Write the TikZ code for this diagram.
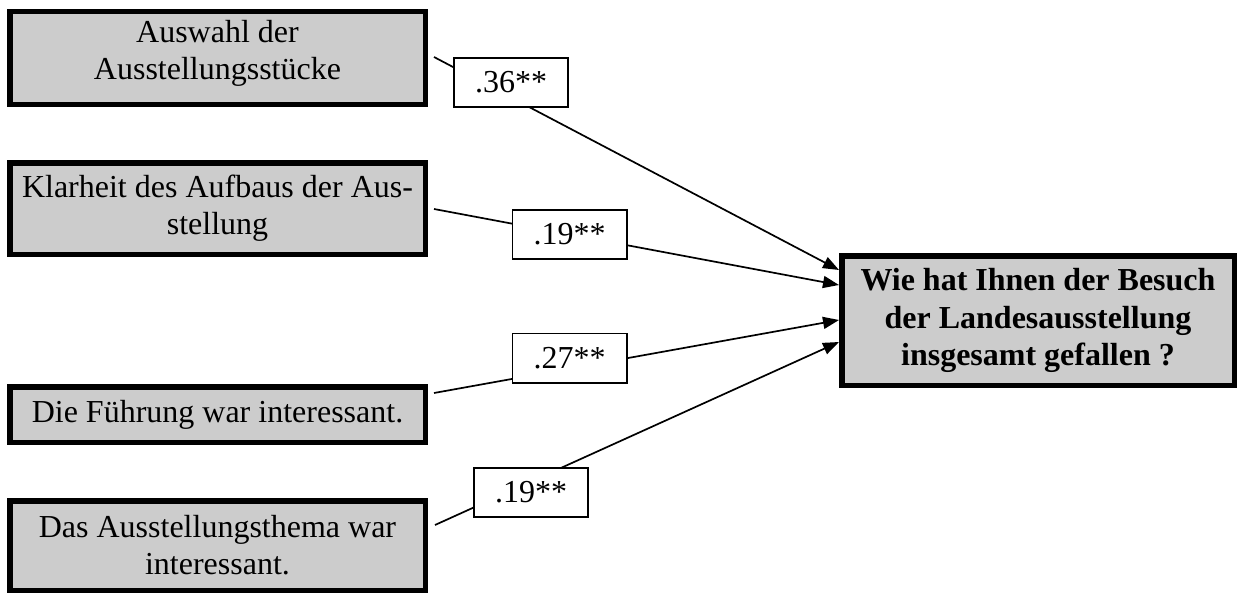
\documentclass[tikz,border=0pt]{standalone}
\usepackage{fontspec}
\setmainfont{Liberation Serif}
\usetikzlibrary{arrows.meta}
\definecolor{boxgray}{HTML}{CCCCCC}
\tikzset{
  srcbox/.style={draw=black, line width=5.5pt, fill=boxgray, inner sep=0pt,
    minimum width=415.5pt, align=center, font=\fontsize{32}{36.8}\selectfont},
  boxtext/.style={inner sep=0pt, align=center, font=\fontsize{32}{36.8}\selectfont},
  tgtbox/.style={draw=black, line width=5.5pt, fill=boxgray, inner sep=0pt,
    minimum width=392.5pt, minimum height=129.5pt, align=center,
    font=\fontsize{32}{37.5}\selectfont\bfseries},
  coef/.style={draw=black, line width=1.6pt, fill=white, inner sep=0pt,
    minimum width=114.4pt, minimum height=49.4pt, font=\fontsize{32}{36.8}\selectfont},
  conn/.style={line width=1.7pt, -{Triangle[length=16pt,width=12pt]}}
}
\begin{document}
\begin{tikzpicture}[x=1pt,y=-1pt]
\useasboundingbox (0,0) rectangle (1237,594);
% source boxes
\node[srcbox, minimum height=92.5pt] (b1) at (217.5,58) {};
\node[boxtext] (b1text) at (217.5,53) {Auswahl der\\Ausstellungsstücke};
\node[srcbox, minimum height=91.5pt] (b2) at (217.5,208.5) {Klarheit des Aufbaus der Aus-\\stellung};
\node[srcbox, minimum height=55.5pt] (b3) at (217.5,414.5) {Die Führung war interessant.};
\node[srcbox, minimum height=89.5pt] (b4) at (217.5,545.5) {Das Ausstellungsthema war\\interessant.};
% target box
\node[tgtbox] (big) at (1038,320.5) {Wie hat Ihnen der Besuch\\der Landesausstellung\\insgesamt gefallen ?};
% connector end points
\coordinate (s1) at (434,57);
\coordinate (s2) at (434,209);
\coordinate (s3) at (434,393);
\coordinate (s4) at (435,525);
\coordinate (t1) at (839,270);
\coordinate (t2) at (839,285);
\coordinate (t3) at (839,320);
\coordinate (t4) at (839,342);
\draw[conn] (s1) -- (t1);
\draw[conn] (s2) -- (t2);
\draw[conn] (s3) -- (t3);
\draw[conn] (s4) -- (t4);
% coefficient labels
\node[coef] (c1) at (511,82.5) {.36**};
\node[coef] (c2) at (569.5,234.5) {.19**};
\node[coef] (c3) at (569.5,358) {.27**};
\node[coef] (c4) at (531,492.5) {.19**};
\end{tikzpicture}
\end{document}
